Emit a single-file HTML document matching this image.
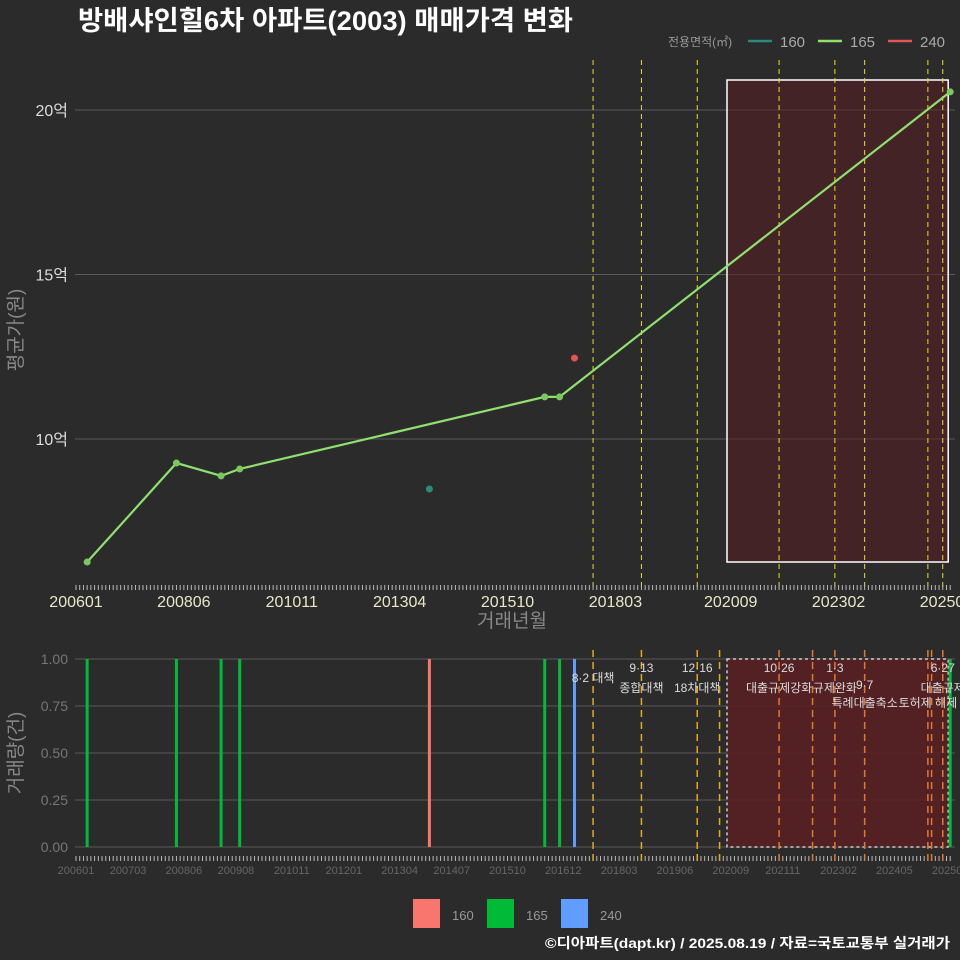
<!DOCTYPE html>
<html><head><meta charset="utf-8">
<style>
html,body{margin:0;padding:0;background:#2b2b2b;}
svg{display:block;font-family:"Liberation Sans","Noto Sans CJK KR",sans-serif;}
</style></head>
<body>
<svg id="chart" width="960" height="960" viewBox="0 0 960 960" xmlns="http://www.w3.org/2000/svg">
<rect width="960" height="960" fill="#2b2b2b"/>
<text x="78" y="30" font-size="27" font-weight="bold" fill="#ffffff" textLength="495" lengthAdjust="spacingAndGlyphs">방배샤인힐6차 아파트(2003) 매매가격 변화</text>
<g id="legendTop">
<text x="668" y="46" font-size="12" fill="#999">전용면적(㎡)</text>
<line x1="748" y1="41" x2="772" y2="41" stroke="#2a8a80" stroke-width="2.5"/>
<text x="780" y="47" font-size="15" fill="#aaa">160</text>
<line x1="818" y1="41" x2="842" y2="41" stroke="#90e070" stroke-width="2.5"/>
<text x="850" y="47" font-size="15" fill="#aaa">165</text>
<line x1="888" y1="41" x2="912" y2="41" stroke="#e05555" stroke-width="2.5"/>
<text x="920" y="47" font-size="15" fill="#aaa">240</text>
</g>
<g id="topPanel"></g>
<g id="bottomPanel"></g>
<g>
<rect x="413" y="899" width="27" height="29" fill="#f8766d"/>
<text x="452" y="920" font-size="13" fill="#999">160</text>
<rect x="487" y="899" width="27" height="29" fill="#00ba38"/>
<text x="526" y="920" font-size="13" fill="#999">165</text>
<rect x="561" y="899" width="27" height="29" fill="#619cff"/>
<text x="600" y="920" font-size="13" fill="#999">240</text>
</g>
<text x="950" y="948" font-size="14" font-weight="bold" fill="#fff" text-anchor="end" textLength="405" lengthAdjust="spacingAndGlyphs">©디아파트(dapt.kr) / 2025.08.19 / 자료=국토교통부 실거래가</text>
</svg>
<script>
// months since 200601
const xTickLabels = ["200601","200806","201011","201304","201510","201803","202009","202302","202507"];
const xTickMonths = [0,29,58,87,116,145,176,205,234];
const bTickLabels = ["200601","200703","200806","200908","201011","201201","201304","201407","201510","201612","201803","201906","202009","202111","202302","202405","202508"];
const bTickMonths = [0,14,29,43,58,72,87,101,116,131,146,161,176,190,205,220,235];
const yTickValues = [10,15,20];
const yTickLabels = ["10억","15억","20억"];
const s165Months = [3,27,39,44,126,130,235];
const s165Prices = [6.26,9.27,8.88,9.09,11.28,11.28,20.55];
const s160Months = [95];
const s160Prices = [8.48];
const s240Months = [134];
const s240Prices = [12.46];
const policyMonths = [139,152,167,173,189,198,204,212,229,230,233];
const policyTop = [true,true,true,false,true,false,true,true,true,false,true];
const policyL1 = ["8·2 대책","9·13","12·16","","10·26","","1·3","9·7","","","6·27"];
const policyL2 = ["","종합대책","18차대책","","대출규제강화","","규제완화","특례대출축소","토허제 해제","","대출규제"];
const volMonths = [3,27,39,44,95,126,130,134,235];
const volCounts = [1,1,1,1,1,1,1,1,1];
const volTypes = ["165","165","165","165","160","165","165","240","165"];
const shadeStart = 175, shadeEnd = 235;

const NS="http://www.w3.org/2000/svg";
function mk(tag,attrs,parent){const e=document.createElementNS(NS,tag);for(const k in attrs)e.setAttribute(k,attrs[k]);parent.appendChild(e);return e;}
const X=m=>76+3.72*m;
const Y=v=>439-(v-10)*32.9;
const YB=v=>847-v*188;
const gTop=document.getElementById('topPanel'), gBot=document.getElementById('bottomPanel');

yTickValues.forEach((v,i)=>{
 const l=mk('line',{x1:75,x2:955,y1:Y(v),y2:Y(v),stroke:'#5a5a5a','stroke-width':1},gTop);
 
 
 const t=mk('text',{x:68,y:Y(v)+6,'font-size':16,fill:'#ddd','text-anchor':'end'},gTop);
 t.textContent=yTickLabels[i];
 
 
});
const r1=mk('rect',{x:X(shadeStart),y:80,width:X(shadeEnd)-X(shadeStart)-2,height:482,fill:'#5a1e22','fill-opacity':0.55,stroke:'#fff','stroke-width':1.5},gTop);


policyMonths.forEach((m,i)=>{ if(!policyTop[i])return;
 const l=mk('line',{x1:X(m),x2:X(m),y1:60,y2:590,stroke:'#e8e020','stroke-width':1,'stroke-dasharray':'5,4'},gTop);
 
 
});
for(let m=0;m<=235;m++){
 const l=mk('line',{x1:X(m),x2:X(m),y1:585,y2:590,stroke:'#bbb','stroke-width':1},gTop);
 
 
 const l2=mk('line',{x1:X(m),x2:X(m),y1:856,y2:861,stroke:'#bbb','stroke-width':1},gBot);
 
 
}
xTickLabels.forEach((s,i)=>{
 const t=mk('text',{x:X(xTickMonths[i]),y:607,'font-size':16,fill:'#e8e8c8','text-anchor':'middle'},gTop);
 t.textContent=s;
 
 
});
let t=mk('text',{x:512,y:627,'font-size':19,fill:'#888','text-anchor':'middle'},gTop);t.textContent='거래년월';


t=mk('text',{x:0,y:0,'font-size':19,fill:'#888','text-anchor':'middle',transform:'translate(22,330) rotate(-90)'},gTop);t.textContent='평균가(원)';


const pl=mk('polyline',{points:s165Months.map((m,i)=>X(m)+','+Y(s165Prices[i])).join(' '),fill:'none',stroke:'#90e070','stroke-width':2.2},gTop);


s165Months.forEach((m,i)=>{const c=mk('circle',{cx:X(m),cy:Y(s165Prices[i]),r:3.5,fill:'#7cc860'},gTop);
 
 });
s160Months.forEach((m,i)=>{const c=mk('circle',{cx:X(m),cy:Y(s160Prices[i]),r:3.5,fill:'#2a8a80'},gTop);
 
 });
s240Months.forEach((m,i)=>{const c=mk('circle',{cx:X(m),cy:Y(s240Prices[i]),r:3.5,fill:'#e05555'},gTop);
 
 });

[0,0.25,0.5,0.75,1].forEach(v=>{
 const l=mk('line',{x1:75,x2:955,y1:YB(v),y2:YB(v),stroke:'#5a5a5a','stroke-width':1},gBot);
 
 
 const tt=mk('text',{x:68,y:YB(v)+5,'font-size':14,fill:'#777','text-anchor':'end'},gBot);
 tt.textContent=v.toFixed(2);
 
 
});
t=mk('text',{x:0,y:0,'font-size':19,fill:'#888','text-anchor':'middle',transform:'translate(22,753) rotate(-90)'},gBot);t.textContent='거래량(건)';


const r2=mk('rect',{x:X(shadeStart),y:YB(1),width:X(shadeEnd)-X(shadeStart)-2,height:188,fill:'#5a1e22','fill-opacity':0.85,stroke:'#ccc','stroke-width':1.5,'stroke-dasharray':'3,3'},gBot);


const colors={"160":"#f8766d","165":"#00ba38","240":"#619cff"};
volMonths.forEach((m,i)=>{
 const b=mk('rect',{x:X(m)-1.5,y:YB(volCounts[i]),width:3,height:YB(0)-YB(volCounts[i]),fill:colors[volTypes[i]]},gBot);
 
 
});
policyMonths.forEach((m,i)=>{
 const x=X(m), inside=m>=shadeStart;
 const l=mk('line',{x1:x,x2:x,y1:650,y2:862,stroke:inside?'#e07a30':'#e8a820','stroke-width':1.5,'stroke-dasharray':'7,5'},gBot);
 
 
 if(policyL1[i]){const yy=m===139?682:(m===212?689:672);const a=mk('text',{x:x,y:yy,'font-size':12,fill:'#ddd','text-anchor':'middle'},gBot);a.textContent=policyL1[i];
  
  }
 if(policyL2[i]){const yy=(m===212||m===229)?707:692;const b=mk('text',{x:x,y:yy,'font-size':12,fill:'#ddd','text-anchor':'middle'},gBot);b.textContent=policyL2[i];
  
  }
});
bTickLabels.forEach((s,i)=>{
 const tt=mk('text',{x:X(bTickMonths[i]),y:874,'font-size':11,fill:'#666','text-anchor':'middle'},gBot);
 tt.textContent=s;
 
 
});
</script>
</body></html>
